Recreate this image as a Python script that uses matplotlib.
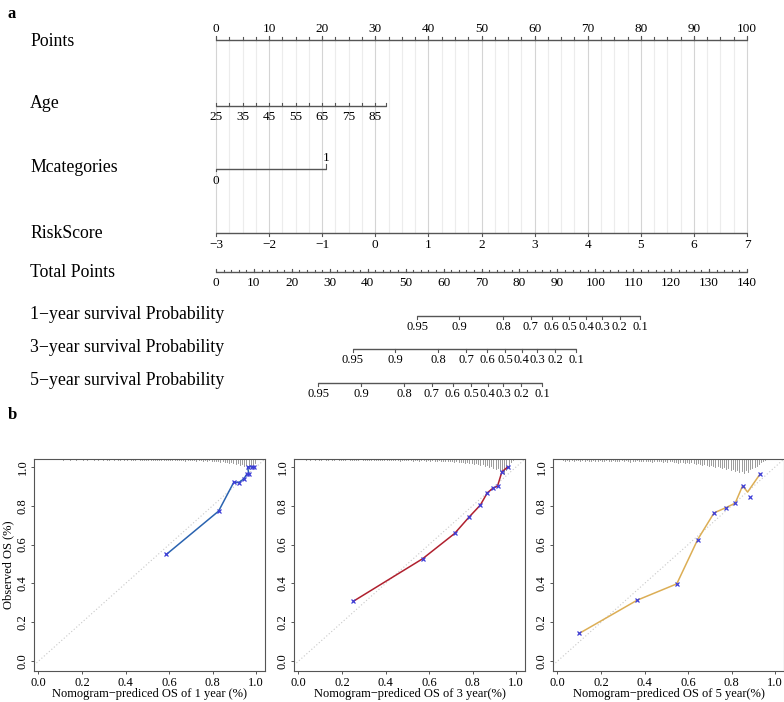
import matplotlib
matplotlib.use('Agg')
import matplotlib.pyplot as plt
import numpy as np

plt.rcParams['font.family'] = ['Liberation Serif', 'DejaVu Serif']

# ---- nomogram data ----
points_ticks = [0, 10, 20, 30, 40, 50, 60, 70, 80, 90, 100]
age_labels = [25, 35, 45, 55, 65, 75, 85]
age_range = [25, 89]          # age at ends of the scale
age_points = [0, 32]          # points at ends
mcat_levels = [0, 1]
mcat_points = [0, 20.7]
risk_ticks = [-3, -2, -1, 0, 1, 2, 3, 4, 5, 6, 7]
risk_points = [0, 100]
total_ticks = [0, 10, 20, 30, 40, 50, 60, 70, 80, 90, 100, 110, 120, 130, 140]
total_max = 140
prob_labels = ['0.95', '0.9', '0.8', '0.7', '0.6', '0.5', '0.4', '0.3', '0.2', '0.1']
prob1_tp = [53.1, 64.1, 75.7, 83.0, 88.5, 93.2, 97.6, 101.8, 106.4, 111.8]
prob3_tp = [36.0, 47.2, 58.6, 65.9, 71.5, 76.2, 80.6, 84.7, 89.4, 94.9]
prob5_tp = [26.9, 38.2, 49.6, 56.9, 62.4, 67.2, 71.6, 75.8, 80.4, 86.0]

# ---- calibration data ----
cal1_x = [0.587, 0.827, 0.897, 0.920, 0.943, 0.956, 0.966, 0.960, 0.980, 0.990]
cal1_y = [0.549, 0.772, 0.921, 0.919, 0.938, 0.961, 0.962, 1.000, 1.000, 1.000]
cal2_x = [0.253, 0.570, 0.717, 0.783, 0.835, 0.867, 0.893, 0.914, 0.934, 0.962]
cal2_y = [0.309, 0.527, 0.657, 0.741, 0.803, 0.866, 0.890, 0.901, 0.974, 1.000]
cal3_x = [0.100, 0.366, 0.548, 0.644, 0.719, 0.772, 0.816, 0.850, 0.884, 0.931]
cal3_y = [0.143, 0.314, 0.398, 0.626, 0.763, 0.789, 0.813, 0.902, 0.844, 0.964]
cal3_line_x = [0.100, 0.366, 0.548, 0.644, 0.719, 0.772, 0.816, 0.850, 0.873, 0.931]
cal3_line_y = [0.143, 0.314, 0.398, 0.626, 0.763, 0.789, 0.813, 0.902, 0.870, 0.964]

# spike histogram heights (units of 0.005) for bins 0.00 .. 0.99
spk1 = [0, 0, 0, 0, 0, 0, 0, 0, 0, 0,
        0, 1, 0, 0, 1, 0, 0, 1, 0, 0,
        1, 0, 1, 0, 0, 1, 0, 1, 0, 1,
        0, 1, 1, 0, 1, 0, 1, 1, 0, 1,
        1, 0, 1, 1, 1, 0, 1, 1, 1, 1,
        1, 1, 1, 1, 1, 1, 1, 1, 1, 1,
        1, 1, 1, 1, 1, 1, 1, 2, 1, 1,
        1, 1, 2, 1, 1, 2, 1, 2, 1, 2,
        2, 2, 2, 3, 2, 3, 3, 4, 3, 4,
        5, 4, 6, 5, 7, 6, 8, 9, 7, 4]
spk2 = [0, 0, 0, 1, 0, 1, 0, 1, 0, 1,
        1, 0, 1, 1, 0, 1, 1, 0, 1, 1,
        1, 1, 0, 1, 1, 1, 1, 1, 0, 1,
        1, 1, 1, 1, 1, 1, 1, 1, 1, 1,
        1, 1, 1, 1, 1, 1, 2, 1, 1, 1,
        1, 1, 2, 1, 1, 2, 1, 1, 2, 1,
        2, 1, 2, 2, 1, 2, 2, 2, 2, 2,
        2, 3, 2, 3, 3, 3, 4, 3, 4, 4,
        5, 4, 5, 6, 5, 7, 6, 8, 7, 9,
        10, 9, 12, 13, 15, 11, 8, 3, 1, 0]
spk3 = [0, 0, 1, 2, 1, 2, 1, 2, 1, 1,
        2, 1, 2, 1, 2, 2, 1, 2, 2, 1,
        2, 2, 1, 2, 2, 1, 2, 2, 2, 1,
        2, 1, 2, 3, 2, 2, 1, 2, 2, 2,
        2, 2, 2, 3, 2, 2, 2, 2, 3, 2,
        3, 2, 2, 3, 3, 4, 3, 3, 4, 3,
        4, 3, 4, 5, 4, 5, 6, 5, 6, 7,
        6, 7, 8, 7, 8, 9, 8, 10, 9, 11,
        10, 12, 11, 13, 12, 14, 11, 13, 10, 9,
        8, 7, 5, 3, 2, 1, 0, 0, 0, 0]

W, H = 784, 702
fig = plt.figure(figsize=(W / 100, H / 100), dpi=100)

line_c = '#555555'
LBL = 12.8
TK = 9.5

# nomogram axes: x in points, y in figure pixels
top_h = 405
s = 100 / 531.0
ax = fig.add_axes([0, 1 - top_h / H, 1, top_h / H])
ax.set_xlim(-216 * s, (W - 216) * s)
ax.set_ylim(top_h, 0)
ax.axis('off')

lab_x = 30 * s - 216 * s


def hline(y, x0, x1):
    ax.plot([x0, x1], [y, y], color=line_c, lw=1.0, solid_capstyle='butt')


def ticks(xs, y, ln):
    for x in xs:
        ax.plot([x, x], [y, y + ln], color=line_c, lw=0.8)


# vertical guide lines
for p in np.arange(0, 100.01, 2.5):
    c = '#d4d4d4' if p % 10 == 0 else '#ececec'
    ax.plot([p, p], [40, 233], color=c, lw=0.8, zorder=0)

# Points
y = 40
ax.text(lab_x, y + 2, 'Points', fontsize=LBL, va='center', ha='left')
hline(y, 0, 100)
ticks(np.arange(0, 100.01, 2.5), y, -2.5)
ticks(points_ticks, y, -4)
for p in points_ticks:
    ax.text(p, 29, str(p), fontsize=TK, ha='center', va='center')

# Age
y = 106
ax.text(lab_x, 104, 'Age', fontsize=LBL, va='center', ha='left')
age_to_pts = lambda a: np.interp(a, age_range, age_points)
hline(y, age_to_pts(age_range[0]), age_to_pts(age_range[1]))
ticks(age_to_pts(np.arange(age_range[0], age_range[1], 5)), y, -3)
ticks([age_to_pts(age_range[1])], y, -3)
for a in age_labels:
    ax.text(age_to_pts(a), 117, str(a), fontsize=TK, ha='center', va='center')

# Mcategories
y = 169
ax.text(lab_x, 168, 'Mcategories', fontsize=LBL, va='center', ha='left')
hline(y, mcat_points[0], mcat_points[1])
ticks([mcat_points[1]], y, -5)
ticks([mcat_points[0]], y, 2)
ax.text(mcat_points[1], 158, str(mcat_levels[1]), fontsize=TK, ha='center', va='center')
ax.text(mcat_points[0], 181, str(mcat_levels[0]), fontsize=TK, ha='center', va='center')

# RiskScore
y = 233
ax.text(lab_x, 234, 'RiskScore', fontsize=LBL, va='center', ha='left')
risk_to_pts = lambda r: np.interp(r, [risk_ticks[0], risk_ticks[-1]], risk_points)
hline(y, 0, 100)
ticks(risk_to_pts(risk_ticks), y, 3)
for r in risk_ticks:
    ax.text(risk_to_pts(r), 245, str(r).replace('-', '\u2212'), fontsize=TK,
            ha='center', va='center')

# Total Points
y = 272
ax.text(lab_x, 273, 'Total Points', fontsize=LBL, va='center', ha='left')
tp = lambda t: np.asarray(t, dtype=float) * 100 / total_max
hline(y, 0, 100)
ticks(tp(np.arange(0, total_max + 0.1, 2)), y, -2)
ticks(tp(total_ticks), y, -3)
for t in total_ticks:
    ax.text(tp(t), 283, str(t), fontsize=TK, ha='center', va='center')

# survival probabilities
rows = [('1\u2212year survival Probability', prob1_tp, 316, 315),
        ('3\u2212year survival Probability', prob3_tp, 349, 348),
        ('5\u2212year survival Probability', prob5_tp, 383, 381)]
for name, pos, yl, yt in rows:
    ax.text(lab_x, yt, name, fontsize=LBL, va='center', ha='left')
    xs = tp(pos)
    hline(yl, xs[0], xs[-1])
    ticks(xs, yl, 3)
    for lab, xv in zip(prob_labels, xs):
        ax.text(xv, yl + 11, lab, fontsize=9, ha='center', va='center')

fig.text(8 / W, 1 - 14 / H, 'a', fontsize=12, fontweight='bold', va='center')
fig.text(8 / W, 1 - 415 / H, 'b', fontsize=12, fontweight='bold', va='center')

# ---- calibration plots ----
panels = [
    (34, cal1_x, cal1_y, cal1_x, cal1_y, '#2a63b0', spk1,
     'Nomogram\u2212prediced OS of 1 year (%)'),
    (294, cal2_x, cal2_y, cal2_x, cal2_y, '#b0202e', spk2,
     'Nomogram\u2212prediced OS of 3 year(%)'),
    (553, cal3_line_x, cal3_line_y, cal3_x, cal3_y, '#dcae55', spk3,
     'Nomogram\u2212prediced OS of 5 year(%)'),
]
bins = np.arange(100) * 0.01 + 0.005
pw, ph = 231, 212
ptop = 459
ylim = (-0.05, 1.04)
for i, (left, lx, ly, mx, my, col, spk, xlab) in enumerate(panels):
    a = fig.add_axes([left / W, 1 - (ptop + ph) / H, pw / W, ph / H])
    a.set_xlim(-0.02, 1.04)
    a.set_ylim(*ylim)
    a.axline((0, 0), (1, 1), color='#c8c8c8', lw=0.8, ls=(0, (1, 2)), zorder=1)
    h = np.array(spk) * 0.005
    for b, hv in zip(bins, h):
        if hv > 0:
            a.plot([b, b], [ylim[1], ylim[1] - hv], color='#8a8a8a', lw=0.6)
    a.plot(lx, ly, color=col, lw=1.1, zorder=2)
    a.plot(mx, my, ls='none', marker='x', ms=3.5, mew=0.9, color='#3d3dd8', zorder=3)
    a.set_xticks([0, 0.2, 0.4, 0.6, 0.8, 1.0])
    a.set_yticks([0, 0.2, 0.4, 0.6, 0.8, 1.0])
    a.set_xticklabels(['0.0', '0.2', '0.4', '0.6', '0.8', '1.0'], fontsize=9)
    a.set_yticklabels(['0.0', '0.2', '0.4', '0.6', '0.8', '1.0'], fontsize=9,
                      rotation=90, va='center')
    a.tick_params(length=2.5, width=0.7, color=line_c, pad=1.5)
    for sp in a.spines.values():
        sp.set_color(line_c)
        sp.set_linewidth(0.8)
    a.set_xlabel(xlab, fontsize=9, va='center')
    a.xaxis.set_label_coords(0.5, -(694 - 671) / ph)
    if i == 0:
        a.set_ylabel('Observed OS (%)', fontsize=9, va='center')
        a.yaxis.set_label_coords(-(left - 8) / pw, 0.5)

fig.savefig('out.png', dpi=100)
